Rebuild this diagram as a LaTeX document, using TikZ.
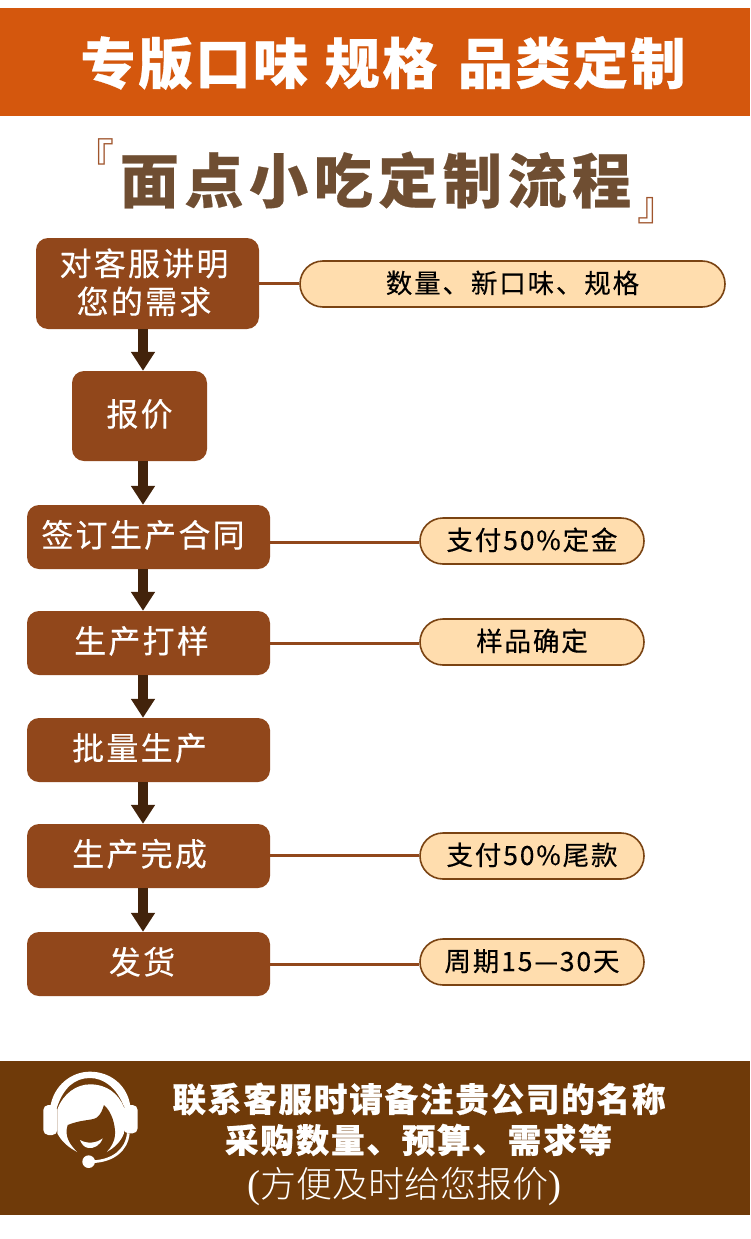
\documentclass[tikz,border=0pt]{standalone}
\usepackage{fontspec}
\usetikzlibrary{arrows.meta}
\setmainfont{Noto Sans CJK SC}
\newfontfamily\serifparen{Liberation Serif}
\newfontfamily\lightcjk{Noto Sans CJK SC Light}
\definecolor{bannerc}{HTML}{D4570D}
\definecolor{titlec}{HTML}{6F4E32}
\definecolor{quotec}{HTML}{A0552D}
\definecolor{boxc}{HTML}{91471B}
\definecolor{arrowc}{HTML}{42230B}
\definecolor{pillc}{HTML}{FFDDAE}
\definecolor{pilledge}{HTML}{7A4312}
\definecolor{footc}{HTML}{6F3A09}
\newcommand{\flowfont}{\fontsize{32}{38}\selectfont\addfontfeature{LetterSpace=7,FakeBold=0.3}}
\newcommand{\pillfont}{\fontsize{26.5}{30}\selectfont\addfontfeature{LetterSpace=7,FakeBold=0.3}}
\newcommand{\footfont}{\fontsize{33.5}{36}\selectfont\bfseries\addfontfeature{LetterSpace=5.5,FakeBold=0.6}}
\tikzset{
  x=1pt,y=-1pt,
  flowbox/.style={fill=boxc,rounded corners=12pt,inner sep=0pt,text=white,align=center,font=\flowfont},
  oneline/.style={text height=26pt,text depth=6pt},
  pillbox/.style={fill=pillc,draw=pilledge,line width=1.6pt,rounded corners=23pt,inner sep=0pt,minimum height=46pt,font=\pillfont,text=black,text height=22pt,text depth=4pt},
  flowarrow/.style={draw=arrowc,line width=10pt,-{Triangle[width=23pt,length=19pt,fill=arrowc]}},
  linkline/.style={draw=boxc,line width=3pt},
  iconshape/.style={fill=white,draw=none}
}
\begin{document}
\begin{tikzpicture}
\useasboundingbox (0,0) rectangle (750,1239);
\fill[white] (0,0) rectangle (750,1239);
\fill[bannerc] (0,8) rectangle (750,116);
\fill[footc] (0,1061) rectangle (750,1215);
\node[text=white,inner sep=0pt] (banner) at (383,63) {\fontsize{55}{60}\selectfont\bfseries\addfontfeature{LetterSpace=4.6,FakeBold=0.5}专版口味\hspace{0.03em} 规格\hspace{0.1em} 品类定制};
\node[text=titlec,inner sep=0pt] (maintitle) at (375.5,180) {\fontsize{59}{66}\selectfont\bfseries\addfontfeature{LetterSpace=9.5,FakeBold=0.4}面点小吃定制流程};
\node[text=quotec,inner sep=0pt] (qleft) at (94,156) {\fontsize{40}{42}\selectfont 『};
\node[text=quotec,inner sep=0pt] (qright) at (657.7,210.5) {\fontsize{40}{42}\selectfont 』};

\node[flowbox,minimum width=223pt,minimum height=91pt] (b1) at (147.5,283.5) {\hspace*{-7pt}对客服讲明\\\hspace*{-7pt}您的需求\rule[-5pt]{0pt}{5pt}};
\node[flowbox,oneline,minimum width=135pt,minimum height=90pt] (b2) at (139.5,416) {报价};
\node[flowbox,oneline,minimum width=243pt,minimum height=64pt] (b3) at (148.5,537) {\hspace*{-11pt}签订生产合同};
\node[flowbox,oneline,minimum width=243pt,minimum height=64pt] (b4) at (148.5,643) {\hspace*{-14pt}生产打样};
\node[flowbox,oneline,minimum width=243pt,minimum height=64pt] (b5) at (148.5,750) {\hspace*{-18pt}批量生产};
\node[flowbox,oneline,minimum width=243pt,minimum height=64pt] (b6) at (148.5,856) {\hspace*{-18pt}生产完成};
\node[flowbox,oneline,minimum width=243pt,minimum height=64pt] (b7) at (148.5,964) {\hspace*{-13pt}发货};

\coordinate (ax) at (143,0);
\draw[flowarrow] (b1.south -| ax) -- (b2.north -| ax);
\draw[flowarrow] (b2.south -| ax) -- (b3.north -| ax);
\draw[flowarrow] (b3.south -| ax) -- (b4.north -| ax);
\draw[flowarrow] (b4.south -| ax) -- (b5.north -| ax);
\draw[flowarrow] (b5.south -| ax) -- (b6.north -| ax);
\draw[flowarrow] (b6.south -| ax) -- (b7.north -| ax);

\node[pillbox,minimum width=425pt] (p1) at (512.5,284) {数量、新口味、规格};
\node[pillbox,minimum width=224pt] (p2) at (532,541) {支付50\%定金};
\node[pillbox,minimum width=224pt] (p3) at (532,642) {样品确定};
\node[pillbox,minimum width=224pt] (p4) at (532,856) {支付50\%尾款};
\node[pillbox,minimum width=224pt] (p5) at (532,962) {周期15—30天};

\draw[linkline] (b1.east) -- (b1.east -| p1.west);
\draw[linkline] ([yshift=-5pt]b3.east) -- ([yshift=-1pt]p2.west);
\draw[linkline] (b4.east) -- (b4.east -| p3.west);
\draw[linkline] ([yshift=1pt]b6.east) -- ([yshift=1pt]p4.west);
\draw[linkline] (b7.east) -- (b7.east -| p5.west);

\node[text=white,inner sep=0pt] (f1) at (419,1099) {\footfont 联系客服时请备注贵公司的名称};
\node[text=white,inner sep=0pt] (f2) at (418.5,1140) {\footfont 采购数量、预算、需求等};
\node[text=white,inner sep=0pt] (f3) at (404,1186.5) {\fontsize{36}{38}\selectfont{\fontsize{39}{40}\selectfont\serifparen(}{\lightcjk 方便及时给您报价}{\fontsize{39}{40}\selectfont\serifparen)}};

\begin{scope}[shift={(0,1050)},x=0.3333pt,y=-0.3333pt]
 \fill[iconshape] (150,175) .. controls (160,105) and (215,65) .. (270,65) .. controls (330,65) and (385,105) .. (392,175) -- (372,170) .. controls (350,112) and (310,84) .. (270,84) .. controls (225,84) and (190,112) .. (170,175) -- cycle;
 \fill[iconshape,rounded corners=5pt] (130,165) rectangle (172,255);
 \fill[iconshape,rounded corners=5pt] (370,165) rectangle (413,250);
 \fill[iconshape] (172,178) .. controls (190,130) and (230,103) .. (270,103) .. controls (320,103) and (355,130) .. (372,172) -- (372,250) .. controls (362,275) and (345,292) .. (320,306) -- (232,306) .. controls (205,292) and (185,275) .. (172,250) -- cycle;
 \fill[footc] (203,225) .. controls (245,208) and (275,212) .. (290,203) .. controls (302,195) and (308,178) .. (312,165) .. controls (335,185) and (347,225) .. (345,255) .. controls (343,278) and (332,292) .. (320,306) -- (320,312) -- (232,312) -- (232,306) .. controls (212,285) and (192,262) .. (203,225) -- cycle;
 \fill[iconshape] (240,270) .. controls (260,282) and (290,280) .. (308,265) .. controls (300,288) and (280,296) .. (265,294) .. controls (252,292) and (245,282) .. (240,270) -- cycle;
 \draw[white,line width=2.7pt] (385,250) .. controls (380,300) and (340,332) .. (280,335);
 \fill[iconshape] (266,335) circle (19);
\end{scope}
\end{tikzpicture}
\end{document}
